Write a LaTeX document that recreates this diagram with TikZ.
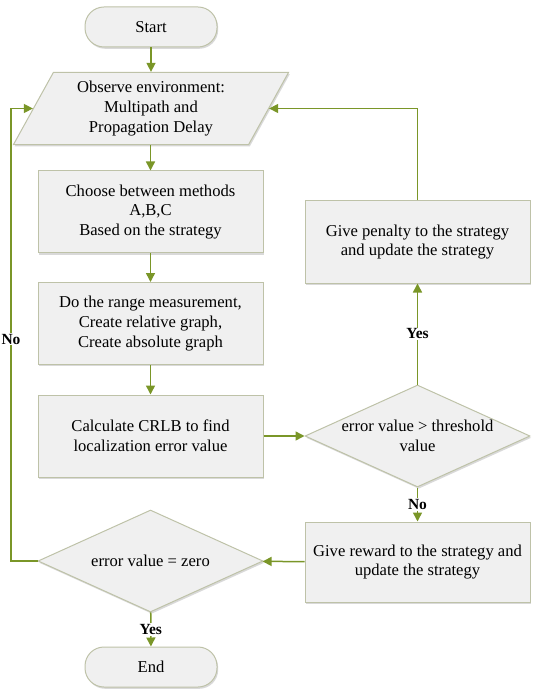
\documentclass[tikz,border=0pt]{standalone}
\usepackage{fontspec}
\setmainfont{Liberation Serif}
\usetikzlibrary{shapes.geometric,shadows,arrows.meta}
\definecolor{lg}{RGB}{122,150,40}
\definecolor{bd}{RGB}{190,194,168}
\definecolor{fl}{RGB}{240,240,240}
\tikzset{
  txt/.style={font=\fontsize{16.6}{19.8}\selectfont},
  blk/.style={draw=bd,line width=1pt,fill=fl,drop shadow={shadow xshift=1.2pt,shadow yshift=-1.8pt,fill=black!25,opacity=0.6},
    txt,align=center,inner sep=0pt},
  box/.style={blk,rectangle,minimum width=225pt,minimum height=82pt},
  term/.style={blk,rectangle,rounded corners=19pt,minimum width=132pt,minimum height=40pt},
  dia/.style={blk,diamond,minimum width=225pt,minimum height=102pt},
  par/.style={blk,trapezium,trapezium left angle=61,trapezium right angle=119,minimum width=276pt,minimum height=65pt},
  conn/.style={draw=lg,line width=1.5pt},
  arr/.style={conn,-{Triangle[length=9pt,width=9pt]}},
  lab/.style={fill=white,font=\fontsize{15.5}{18}\selectfont\bfseries,inner sep=1pt}
}
\begin{document}
\begin{tikzpicture}[x=1pt,y=-1pt]
\useasboundingbox (0,0) rectangle (534,692);
\node[term] (start) at (151,27) {Start};
\node[par] (obs) at (151,108.5) {Observe environment:\\Multipath and\\Propagation Delay};
\node[box] (choose) at (150.5,212) {Choose between methods\\A,B,C\\Based on the strategy};
\node[box] (range) at (150.5,323.5) {Do the range measurement,\\Create relative graph,\\Create absolute graph};
\node[box] (crlb) at (150.5,436) {Calculate CRLB to find\\localization error value};
\node[dia,label={[align=center,txt]center:error value > threshold\\value}] (thr) at (417.5,436) {};
\node[box] (pen) at (417.5,242) {Give penalty to the strategy\\and update the strategy};
\node[box,minimum height=80pt] (rew) at (417.5,562) {Give reward to the strategy and\\update the strategy};
\node[dia,label={[txt]center:error value = zero}] (zero) at (150.5,561) {};
\node[term] (end) at (151,667) {End};
\coordinate (lft) at (11,339);

\draw[arr] (start) -- (start|-obs.north);
\draw[arr] (obs.south-|choose) -- (choose);
\draw[arr] (choose) -- (range);
\draw[arr] (range) -- (crlb);
\draw[arr] (crlb) -- (thr);
\draw[arr] (thr) -- node[lab] {Yes} (pen);
\draw[arr] (pen.north) |- (obs.east);
\draw[arr] (thr) -- node[lab] {No} (rew);
\draw[arr] (rew) -- (zero);
\draw[arr] (zero.west) -| (lft) |- (obs.west);
\node[lab] at (lft) {No};
\draw[arr] (zero) -- node[lab] {Yes} (end);
\end{tikzpicture}
\end{document}
